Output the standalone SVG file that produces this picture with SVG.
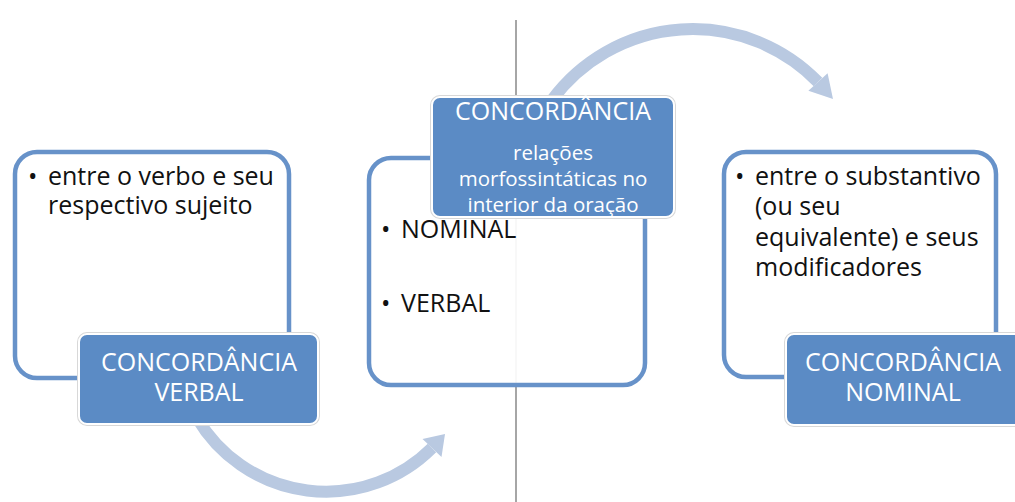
<svg xmlns="http://www.w3.org/2000/svg" width="1015" height="502" viewBox="0 0 1015 502">
<defs>
<style>
.box{fill:#ffffff;fill-opacity:0.92;stroke:#6792c9;stroke-width:4.5}
.lab{fill:#5b8bc5;stroke:#ffffff;stroke-width:2}
.shadow{fill:none;stroke:#d8d8d8;stroke-width:2}
.body{font-family:"Open Sans","Liberation Sans",sans-serif;font-size:25px;fill:#111111}
.lt{font-family:"Open Sans","Liberation Sans",sans-serif;font-size:25px;fill:#ffffff;text-anchor:middle}
.ls{font-family:"Open Sans","Liberation Sans",sans-serif;font-size:20.5px;fill:#ffffff;text-anchor:middle}
.arc{fill:none;stroke:#b9c9e1;stroke-width:12}
.head{fill:#b9c9e1}
</style>
</defs>
<rect width="1015" height="502" fill="#ffffff"/>
<line x1="516" y1="20" x2="516" y2="502" stroke="#a6a6a6" stroke-width="2"/>
<g id="connectors">
<path class="arc" d="M 197 418 A 150 150 0 0 0 432 448"/>
<polygon class="head" points="445,434 441.5,457 422.5,439"/>
<path class="arc" d="M 552 100 A 175 175 0 0 1 818 82"/>
<polygon class="head" points="833,99 808.4,90.7 827.6,73.3"/>
</g>
<g id="node-verbal">
<rect class="box" x="15" y="152" width="274" height="226" rx="22"/>
<text class="body" x="28" y="185">•</text>
<text class="body" x="48" y="185">entre o verbo e seu</text>
<text class="body" x="48" y="214">respectivo sujeito</text>
<rect class="shadow" x="78" y="333" width="241" height="92" rx="9"/>
<rect class="lab" x="79" y="334" width="239" height="90" rx="8"/>
<text class="lt" x="199" y="371">CONCORDÂNCIA</text>
<text class="lt" x="199" y="401">VERBAL</text>
</g>
<g id="node-concordancia">
<rect class="box" x="369" y="158" width="276" height="227" rx="22"/>
<text class="body" x="381" y="238">•</text>
<text class="body" x="401" y="238">NOMINAL</text>
<text class="body" x="381" y="312">•</text>
<text class="body" x="401" y="312">VERBAL</text>
<rect class="shadow" x="431" y="96" width="244" height="122" rx="9"/>
<rect class="lab" x="432" y="97" width="242" height="120" rx="8"/>
<text class="lt" x="553" y="120">CONCORDÂNCIA</text>
<text class="ls" x="553" y="160">relações</text>
<text class="ls" x="553" y="186">morfossintáticas no</text>
<text class="ls" x="553" y="212">interior da oração</text>
</g>
<g id="node-nominal">
<rect class="box" x="724" y="152" width="272" height="225" rx="22"/>
<text class="body" x="735" y="185">•</text>
<text class="body" x="755" y="185">entre o substantivo</text>
<text class="body" x="755" y="215">(ou seu</text>
<text class="body" x="755" y="246">equivalente) e seus</text>
<text class="body" x="755" y="276">modificadores</text>
<rect class="shadow" x="785" y="333" width="242" height="93" rx="9"/>
<rect class="lab" x="786" y="334" width="240" height="91" rx="8"/>
<text class="lt" x="903" y="371">CONCORDÂNCIA</text>
<text class="lt" x="903" y="401">NOMINAL</text>
</g>
</svg>
